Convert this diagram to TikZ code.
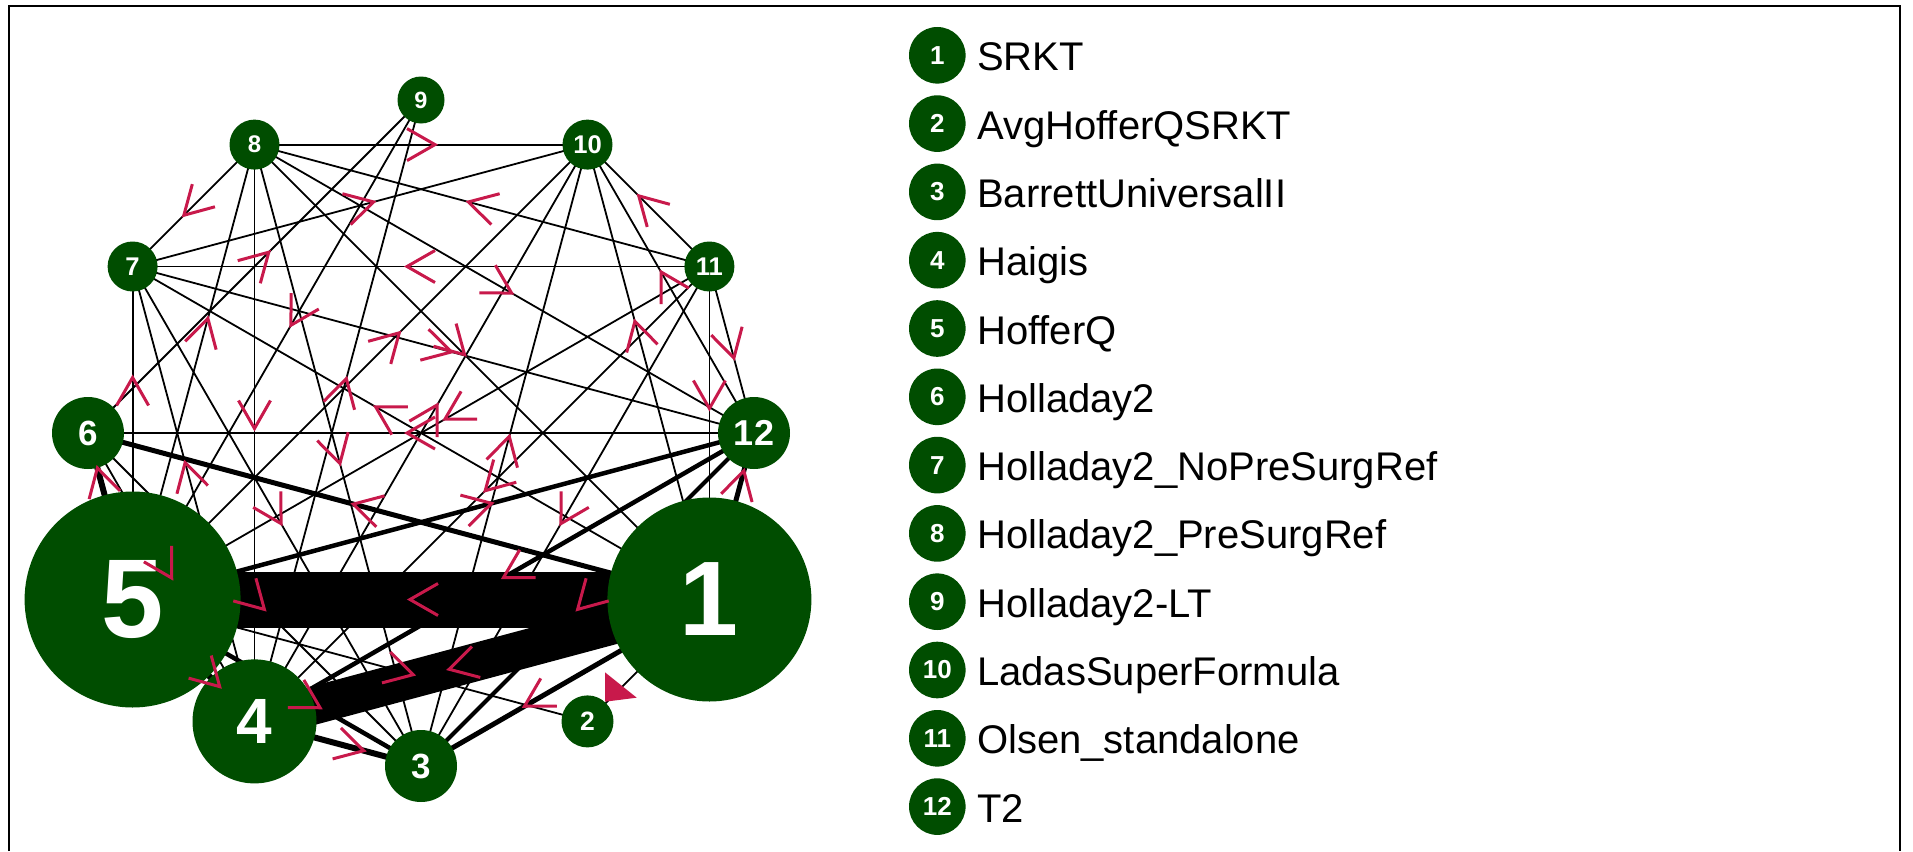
\documentclass[tikz,border=0pt]{standalone}
\usepackage{fontspec}
\setmainfont{Liberation Sans}
\usetikzlibrary{decorations.markings}
\pgfdeclarelayer{background}
\pgfsetlayers{background,main}
\definecolor{ngreen}{RGB}{0,77,0}
\definecolor{acol}{RGB}{200,25,75}
\newcommand\vfnt[1]{\fontsize{#1pt}{#1pt}\selectfont\bfseries}
\begin{document}
\begin{tikzpicture}[x=1pt,y=-1pt,
  vtx/.style={circle, fill=ngreen, text=white, inner sep=0pt, minimum size=#1},
  ew/.style={line width=#1, black},
  ew/.default=1.8pt,
  mid/.style={postaction={decorate}, decoration={markings, mark=at position 0.5 with {\draw[acol, line width=3pt, line join=miter] (-14pt,-16pt) -- (14pt,0pt) -- (-14pt,16pt);}}},
  lg/.style={circle, fill=ngreen, text=white, inner sep=0pt, minimum size=56.6pt, font=\vfnt{26}},
  lgtext/.style={anchor=base west, inner sep=0pt, font=\fontsize{40pt}{40pt}\selectfont}
]
\useasboundingbox (0,0) rectangle (1913,851);
\draw[line width=2pt] (9,851) -- (9,6) -- (1900,6) -- (1900,851);

% vertices
\node[vtx=204pt, font=\vfnt{106}] (n1) at (709.4,599.5) {1};
\node[vtx=52pt, font=\vfnt{26.5}] (n2) at (587.5,721.4) {2};
\node[vtx=72pt, font=\vfnt{35}] (n3) at (421,766) {3};
\node[vtx=124pt, font=\vfnt{64}] (n4) at (254.5,721.4) {4};
\node[vtx=216pt, font=\vfnt{112}] (n5) at (132.6,599.5) {5};
\node[vtx=72pt, font=\vfnt{35}] (n6) at (88,433) {6};
\node[vtx=50pt, font=\vfnt{25.6}] (n7) at (132.6,266.5) {7};
\node[vtx=50pt, font=\vfnt{24}] (n8) at (254.5,144.6) {8};
\node[vtx=47pt, font=\vfnt{23.5}] (n9) at (421,100) {9};
\node[vtx=50pt, font=\vfnt{25.6}] (n10) at (587.5,144.6) {10};
\node[vtx=50pt, font=\vfnt{25.6}] (n11) at (709.4,266.5) {11};
\node[vtx=72pt, font=\vfnt{36}] (n12) at (754,433) {12};

% edges
\begin{pgfonlayer}{background}
\draw[ew] (n8.center) -- (n10.center);
\draw[ew] (n8.center) -- (n7.center);
\draw[ew] (n7.center) -- (n10.center);
\draw[ew] (n6.center) -- (n9.center);
\draw[ew] (n9.center) -- (n5.center);
\draw[ew] (n5.center) -- (n8.center);
\draw[ew] (n5.center) -- (n10.center);
\draw[ew] (n7.center) -- (n12.center);
\draw[ew] (n8.center) -- (n4.center);
\draw[ew] (n5.center) -- (n7.center);
\draw[ew] (n4.center) -- (n9.center);
\draw[ew] (n1.center) -- (n7.center);
\draw[ew] (n11.center) -- (n8.center);
\draw[ew] (n11.center) -- (n7.center);
\draw[ew] (n11.center) -- (n10.center);
\draw[ew] (n8.center) -- (n12.center);
\draw[ew] (n12.center) -- (n10.center);
\draw[ew] (n1.center) -- (n10.center);
\draw[ew] (n11.center) -- (n12.center);
\draw[ew] (n11.center) -- (n1.center);
\draw[ew] (n11.center) -- (n5.center);
\draw[ew] (n3.center) -- (n10.center);
\draw[ew] (n11.center) -- (n4.center);
\draw[ew=4.5pt] (n5.center) -- (n12.center);
\draw[ew] (n11.center) -- (n3.center);
\draw[ew=4.5pt] (n12.center) -- (n4.center);
\draw[ew=4pt] (n12.center) -- (n3.center);
\draw[ew=5pt] (n1.center) -- (n12.center);
\draw[ew=5pt] (n1.center) -- (n3.center);
\draw[ew=38pt] (n1.center) -- (n4.center);
\draw[ew] (n4.center) -- (n7.center);
\draw[ew] (n7.center) -- (n3.center);
\draw[ew] (n8.center) -- (n3.center);
\draw[ew=5pt] (n1.center) -- (n6.center);
\draw[ew=6pt] (n5.center) -- (n6.center);
\draw[ew] (n6.center) -- (n4.center);
\draw[ew] (n6.center) -- (n3.center);
\draw[ew=6pt] (n5.center) -- (n4.center);
\draw[ew=4.5pt] (n5.center) -- (n3.center);
\draw[ew] (n5.center) -- (n2.center);
\draw[ew=56pt] (n1.center) -- (n5.center);
\draw[ew=6pt] (n4.center) -- (n3.center);
\draw[ew] (n1.center) -- (n2.center);
\draw[ew] (n8.center) -- (n1.center);
\draw[ew] (n4.center) -- (n10.center);
\draw[ew] (n12.center) -- (n6.center);
\end{pgfonlayer}

% direction marks
\path[mid] (n8) -- (n10);
\path[mid] (n8) -- (n7);
\path[mid] (n7) -- (n10);
\path[mid] (n6) -- (n9);
\path[mid] (n9) -- (n5);
\path[mid] (n5) -- (n8);
\path[mid] (n5) -- (n10);
\path[mid] (n7) -- (n12);
\path[mid] (n8) -- (n4);
\path[mid] (n5) -- (n7);
\path[mid] (n4) -- (n9);
\path[mid] (n1) -- (n7);
\path[mid] (n11) -- (n8);
\path[mid] (n11) -- (n7);
\path[mid] (n11) -- (n10);
\path[mid] (n8) -- (n12);
\path[mid] (n12) -- (n10);
\path[mid] (n1) -- (n10);
\path[mid] (n11) -- (n12);
\path[mid] (n11) -- (n1);
\path[mid] (n11) -- (n5);
\path[mid] (n3) -- (n10);
\path[mid] (n11) -- (n4);
\path[mid] (n5) -- (n12);
\path[mid] (n11) -- (n3);
\path[mid] (n12) -- (n4);
\path[mid] (n12) -- (n3);
\path[mid] (n1) -- (n12);
\path[mid] (n1) -- (n3);
\path[mid] (n1) -- (n4);
\path[mid] (n4) -- (n7);
\path[mid] (n7) -- (n3);
\path[mid] (n8) -- (n3);
\path[mid] (n1) -- (n6);
\path[mid] (n5) -- (n6);
\path[mid] (n6) -- (n4);
\path[mid] (n6) -- (n3);
\path[mid] (n5) -- (n4);
\path[mid] (n5) -- (n3);
\path[mid] (n5) -- (n2);
\path[mid] (n1) -- (n5);
\path[mid] (n4) -- (n3);
\path[mid] (n8) -- (n1);
\path[mid] (n4) -- (n10);
\path[mid] (n12) -- (n6);
\fill[acol] (605,672.3) -- (605,701.7) -- (636.7,697.7) -- cycle;

% legend
\foreach \k/\t [count=\i from 0] in {1/SRKT, 2/AvgHofferQSRKT, 3/BarrettUniversalII, 4/Haigis, 5/HofferQ, 6/Holladay2, 7/Holladay2\_NoPreSurgRef, 8/Holladay2\_PreSurgRef, 9/Holladay2-LT, 10/LadasSuperFormula, 11/Olsen\_standalone, 12/T2}{
  \node[lg] (l\k) at (937.3, 55.3+68.3*\i) {\k};
  \node[lgtext] (t\k) at (977, 70.8+68.3*\i) {\t};
}
\end{tikzpicture}
\end{document}
